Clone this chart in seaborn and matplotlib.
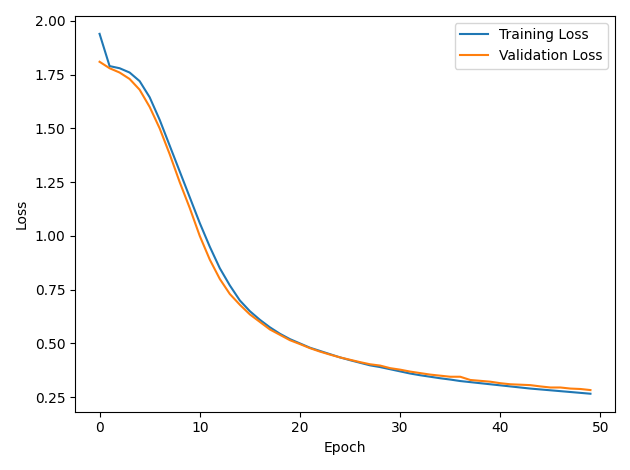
import matplotlib
matplotlib.use("Agg")
import matplotlib.pyplot as plt
import seaborn as sns
import pandas as pd
import numpy as np

epochs = list(range(50))
train_loss = [1.94, 1.79, 1.78, 1.76, 1.72, 1.645, 1.54, 1.42, 1.30, 1.18,
              1.06, 0.95, 0.85, 0.77, 0.70, 0.65, 0.61, 0.575, 0.545, 0.52,
              0.50, 0.48, 0.465, 0.45, 0.435, 0.422, 0.41, 0.398, 0.39, 0.38,
              0.37, 0.36, 0.352, 0.345, 0.338, 0.332, 0.325, 0.32, 0.315, 0.31,
              0.305, 0.30, 0.295, 0.29, 0.286, 0.282, 0.278, 0.274, 0.27, 0.266]
val_loss = [1.81, 1.78, 1.76, 1.73, 1.68, 1.60, 1.50, 1.38, 1.25, 1.13,
            1.00, 0.89, 0.80, 0.73, 0.68, 0.635, 0.60, 0.565, 0.54, 0.515,
            0.497, 0.478, 0.462, 0.448, 0.435, 0.424, 0.413, 0.403, 0.397, 0.385,
            0.378, 0.369, 0.362, 0.355, 0.35, 0.345, 0.345, 0.33, 0.326, 0.322,
            0.315, 0.31, 0.308, 0.306, 0.30, 0.295, 0.295, 0.29, 0.288, 0.283]

fig, ax = plt.subplots(figsize=(6.3, 4.7), dpi=100)
sns.lineplot(x=epochs, y=train_loss, ax=ax, label="Training Loss", color="#1f77b4")
sns.lineplot(x=epochs, y=val_loss, ax=ax, label="Validation Loss", color="#ff7f0e")
ax.set_xlabel("Epoch")
ax.set_ylabel("Loss")
ax.legend(loc="upper right")
plt.tight_layout()
fig.savefig("out.png", dpi=100)
